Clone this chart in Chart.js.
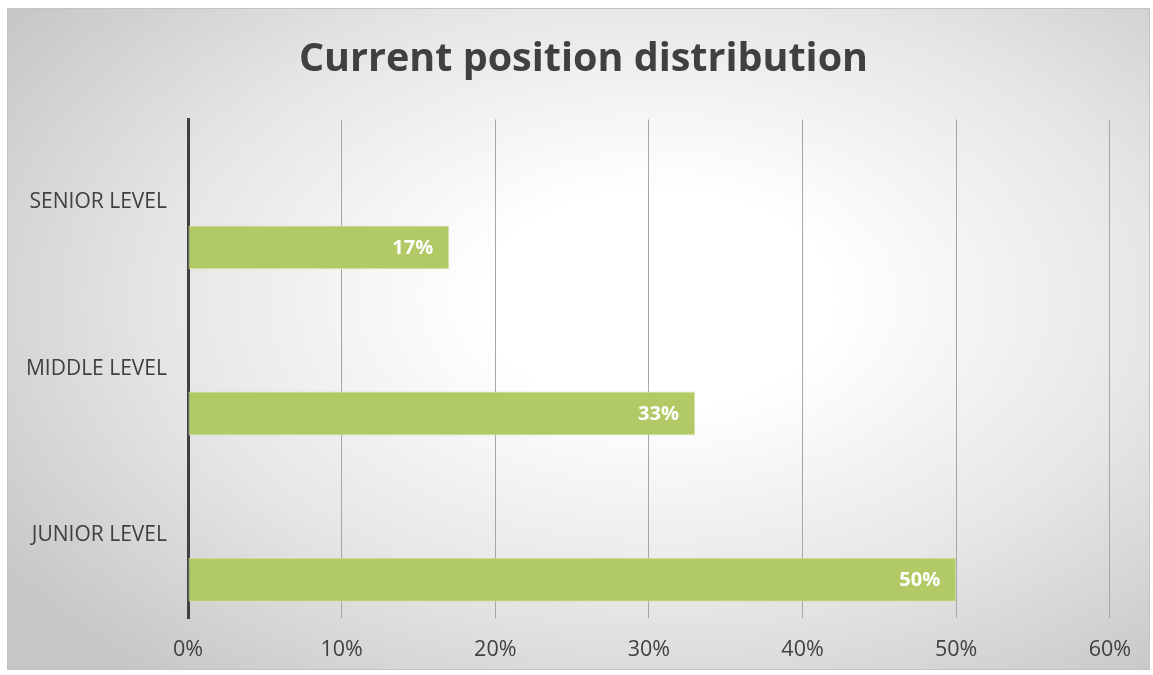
<!DOCTYPE html>
<html>
<head>
<meta charset="utf-8">
<script src="https://cdn.jsdelivr.net/npm/chart.js@4.4.1/dist/chart.umd.min.js"></script>
<style>
    html, body { margin: 0; padding: 0; background: #fff; }
    #frame {
        position: absolute;
        left: 7px; top: 8px;
        width: 1143px; height: 662px;
        box-sizing: border-box;
        border: 1px solid #c4c4c4;
        background: radial-gradient(ellipse 70% 75% at 57% 44%, #ffffff 0%, #ffffff 22%, #e6e6e6 62%, #c6c6c6 100%);
    }
    #chartBox { position: absolute; left: -1px; top: -1px; width: 1143px; height: 662px; }
</style>
</head>
<body>
<div id="frame">
    <div id="chartBox"><canvas id="positionChart"></canvas></div>
</div>
<script>
// Chart data
const categories = ['SENIOR LEVEL', 'MIDDLE LEVEL', 'JUNIOR LEVEL'];
const shareValues = [17, 33, 50];
const emptySeries = [null, null, null];
const tickValues = [0, 10, 20, 30, 40, 50, 60];

const textColor = '#404040';
const fontFamily = '"Open Sans", "Noto Sans", sans-serif';

// white percentage labels drawn inside the bar end
const barLabels = {
    id: 'barLabels',
    afterLayout(chart) {
        // center the title on the whole frame, not on the padded area
        if (chart.titleBlock) {
            chart.titleBlock.left = 10;
            chart.titleBlock.right = chart.width;
        }
    },
    afterDatasetsDraw(chart) {
        const ctx = chart.ctx;
        const meta = chart.getDatasetMeta(1);
        ctx.save();
        ctx.fillStyle = '#ffffff';
        ctx.font = 'bold 20px ' + fontFamily;
        ctx.textAlign = 'right';
        ctx.textBaseline = 'middle';
        meta.data.forEach((bar, i) => {
            ctx.fillText(shareValues[i] + '%', bar.x - 16, bar.y + 1);
        });
        ctx.restore();
    }
};

function initPositionChart() {
    const ctx = document.getElementById('positionChart');
    if (!ctx || typeof Chart === 'undefined') return;

    new Chart(ctx, {
        type: 'bar',
        data: {
            labels: categories,
            datasets: [{
                label: 'Empty',
                data: emptySeries
            }, {
                label: 'Share',
                data: shareValues,
                backgroundColor: '#b2ca66',
                borderColor: '#d3e2a2',
                borderWidth: 1,
                borderSkipped: false
            }]
        },
        options: {
            indexAxis: 'y',
            responsive: true,
            maintainAspectRatio: false,
            animation: false,
            categoryPercentage: 1.08,
            barPercentage: 0.49,
            layout: { padding: { left: 0, right: 40, top: 0, bottom: 0 } },
            plugins: {
                legend: { display: false },
                tooltip: { enabled: false },
                title: {
                    display: true,
                    text: 'Current position distribution',
                    color: textColor,
                    font: { family: fontFamily, size: 39.5, weight: 'bold', lineHeight: 1.2 },
                    padding: { top: 28, bottom: 36 }
                }
            },
            scales: {
                x: {
                    min: 0,
                    max: 60,
                    afterBuildTicks: axis => { axis.ticks = tickValues.map(v => ({ value: v })); },
                    afterFit: axis => { axis.height = 52; },
                    ticks: {
                        color: textColor,
                        font: { family: fontFamily, size: 21.5 },
                        padding: 19,
                        callback: v => v + '%'
                    },
                    grid: { color: '#a6a6a6', lineWidth: 1, drawTicks: false },
                    border: { display: false }
                },
                y: {
                    afterFit: axis => { axis.width = 181; },
                    ticks: {
                        color: textColor,
                        font: { family: fontFamily, size: 21 },
                        padding: 21
                    },
                    grid: { display: false, drawTicks: false },
                    border: { color: '#404040', width: 3 }
                }
            }
        },
        plugins: [barLabels]
    });
}

initPositionChart();
</script>
</body>
</html>
